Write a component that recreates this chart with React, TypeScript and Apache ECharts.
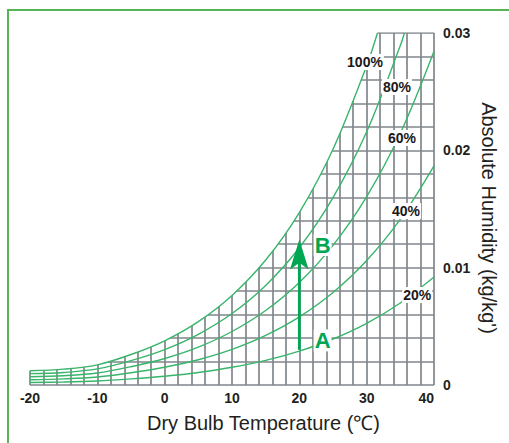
import React, { useEffect, useRef } from 'react';
import * as echarts from 'echarts';

// Dry bulb temperature (°C) sample points for each relative-humidity curve
const t100 = [-20, -15, -10, -5, 0, 5, 10, 15, 20, 25, 30, 31.6];
const w100 = [0.00122, 0.00135, 0.00172, 0.0026, 0.00377, 0.0054, 0.00763, 0.01065, 0.0147, 0.02009, 0.02721, 0.03];
const t80 = [-20, -15, -10, -5, 0, 5, 10, 15, 20, 25, 30, 35, 35.6];
const w80 = [0.00097, 0.00107, 0.00137, 0.00208, 0.00302, 0.00432, 0.00609, 0.00849, 0.0117, 0.01597, 0.02158, 0.02893, 0.03];
const tFull = [-20, -15, -10, -5, 0, 5, 10, 15, 20, 25, 30, 35, 40];
const w60 = [0.0007, 0.00079, 0.00102, 0.00156, 0.00226, 0.00323, 0.00456, 0.00635, 0.00874, 0.0119, 0.01605, 0.02145, 0.02844];
const w40 = [0.00045, 0.00052, 0.00068, 0.00104, 0.00151, 0.00215, 0.00303, 0.00422, 0.0058, 0.00788, 0.01061, 0.01414, 0.01868];
const w20 = [0.00021, 0.00025, 0.00034, 0.00052, 0.00075, 0.00107, 0.00151, 0.0021, 0.00289, 0.00392, 0.00526, 0.00699, 0.0092];

// Curve labels
const rhNames = ['100%', '80%', '60%', '40%', '20%'];
const rhLabelT = [29.75, 34.5, 35.25, 35.85, 37.5];
const rhLabelW = [0.02753, 0.0254, 0.02105, 0.01483, 0.00767];

// Process A -> B
const pointNames = ['A', 'B'];
const pointT = [23.45, 23.45];
const pointW = [0.0038, 0.01193];
const arrowT = 20;
const arrowFromW = 0.003;
const arrowToW = 0.0124;

// Axes
const xMin = -20, xMax = 40, xStep = 2;
const yMin = 0, yMax = 0.03, yStep = 0.002;

const zip = (ts: number[], ws: number[]) => ts.map((t, i) => [t, ws[i]]);

export default function App() {
  const ref = useRef<HTMLDivElement>(null);
  useEffect(() => {
    const chart = echarts.init(ref.current!, null, { renderer: 'svg' });
    const curveColor = '#38b56b';
    const gridColor = '#80868b';
    const green = '#00a651';
    const font = '"Liberation Sans", Arial, sans-serif';
    const curve = (name: string, data: number[][], extra: any = {}) => ({
      type: 'line', name, data, smooth: 0.35, symbol: 'none',
      lineStyle: { color: curveColor, width: 1.4 }, z: 3, silent: true, ...extra,
    });
    const labelSeries = (names: string[], ts: number[], ws: number[], size: number, color: string, pad: number[]) => ({
      type: 'custom', z: 6, silent: true,
      data: names.map((n, i) => [ts[i], ws[i], i]),
      renderItem: (params: any, api: any) => {
        const p = api.coord([api.value(0), api.value(1)]);
        return {
          type: 'text', x: p[0], y: p[1],
          style: {
            text: names[api.value(2)], align: 'center', verticalAlign: 'middle',
            fontSize: size, fontWeight: 'bold', fontFamily: font, fill: color,
            backgroundColor: '#ffffff', padding: pad,
          },
        };
      },
    });
    const option: any = {
      animation: false,
      grid: { left: 30, right: 75, top: 33, bottom: 58 },
      xAxis: {
        type: 'value', min: xMin, max: xMax, interval: xStep,
        axisLine: { show: false }, axisTick: { show: false },
        splitLine: { show: true, showMinLine: false, lineStyle: { color: gridColor, width: 1.7 } },
        axisLabel: {
          margin: 6, fontSize: 14, fontWeight: 'bold', color: '#231f20', fontFamily: font,
          alignMaxLabel: 'right',
          formatter: (v: number) => (Math.round(v) % 10 === 0 ? String(Math.round(v)) : ''),
        },
      },
      yAxis: {
        type: 'value', position: 'right', min: yMin, max: yMax, interval: yStep,
        axisLine: { show: false }, axisTick: { show: false },
        splitLine: { show: true, showMaxLine: false, lineStyle: { color: gridColor, width: 1.7 } },
        axisLabel: {
          margin: 9, fontSize: 14, fontWeight: 'bold', color: '#231f20', fontFamily: font,
          formatter: (v: number) => {
            const k = Math.round(v * 1000);
            if (k % 10 !== 0) return '';
            return k === 0 ? '0' : (k / 1000).toFixed(2);
          },
        },
      },
      series: [
        // frame edges that are not hidden by the mask
        { type: 'line', data: [[t100[0], yMin], [t100[0], w100[0]]], symbol: 'none', silent: true,
          lineStyle: { color: gridColor, width: 1.7 }, z: 2 },
        { type: 'line', data: [[t100[t100.length - 1], yMax], [xMax, yMax]], symbol: 'none', silent: true,
          lineStyle: { color: gridColor, width: 1.7 }, z: 2 },
        curve('100%', zip(t100, w100), { areaStyle: { color: '#ffffff', opacity: 1, origin: 'end' } }),
        curve('80%', zip(t80, w80)),
        curve('60%', zip(tFull, w60)),
        curve('40%', zip(tFull, w40)),
        curve('20%', zip(tFull, w20)),
        {
          type: 'custom', z: 5, silent: true,
          data: [[arrowT, arrowFromW, arrowToW]],
          renderItem: (params: any, api: any) => {
            const base = api.coord([api.value(0), api.value(1)]);
            const tip = api.coord([api.value(0), api.value(2)]);
            const x = tip[0];
            const headLen = 30, half = 9.3, notch = 23.3;
            return {
              type: 'group',
              children: [
                { type: 'line', shape: { x1: x, y1: base[1], x2: x, y2: tip[1] + notch },
                  style: { stroke: green, lineWidth: 2.8 } },
                { type: 'polygon', shape: { points: [[x, tip[1]], [x + half, tip[1] + headLen], [x, tip[1] + notch], [x - half, tip[1] + headLen]] },
                  style: { fill: green } },
              ],
            };
          },
        },
        labelSeries(rhNames, rhLabelT, rhLabelW, 14, '#1a1718', [1, 1]),
        labelSeries(pointNames, pointT, pointW, 22, green, [0, 1]),
      ],
      graphic: [
        { type: 'rect', silent: true, shape: { x: 8, y: 10, width: 620, height: 520 },
          style: { fill: 'none', stroke: '#56b455', lineWidth: 2 } },
        { type: 'text', x: 240.5, y: 158, silent: true,
          style: { text: 'Relative Humidity', fontSize: 20, fontFamily: font, fill: '#231f20', align: 'center', verticalAlign: 'middle' } },
        { type: 'text', x: 263.5, y: 423, silent: true,
          style: { text: 'Dry Bulb Temperature (℃)', fontSize: 20, fontFamily: font, fill: '#231f20', align: 'center', verticalAlign: 'middle' } },
        { type: 'text', x: 489, y: 218, rotation: -Math.PI / 2, silent: true,
          style: { text: "Absolute Humidity (kg/kg')", fontSize: 20, fontFamily: font, fill: '#231f20', align: 'center', verticalAlign: 'middle' } },
      ],
    };
    chart.setOption(option);
    return () => chart.dispose();
  }, []);
  return <div ref={ref} style={{ position: 'absolute', left: 0, top: 0, width: 509, height: 443 }} />;
}
